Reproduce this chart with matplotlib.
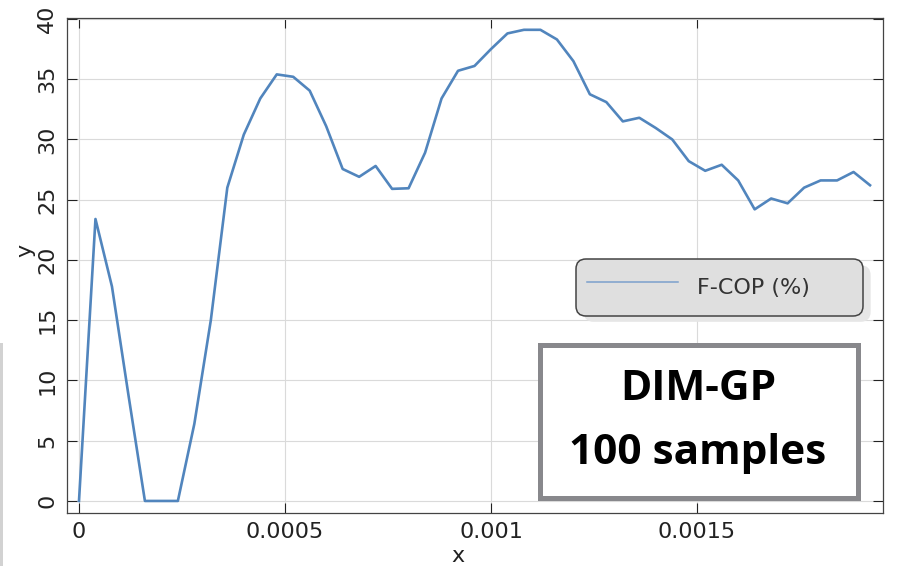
import matplotlib
matplotlib.use("Agg")
import matplotlib.pyplot as plt
from matplotlib.patches import Rectangle, Shadow

# ---- data ----
x_vals = [0.0, 0.00004, 0.00008, 0.00012, 0.00016, 0.0002, 0.00024, 0.00028,
          0.00032, 0.00036, 0.0004, 0.00044, 0.00048, 0.00052, 0.00056, 0.0006,
          0.00064, 0.00068, 0.00072, 0.00076, 0.0008, 0.00084, 0.00088, 0.00092,
          0.00096, 0.001, 0.00104, 0.00108, 0.00112, 0.00116, 0.0012, 0.00124,
          0.00128, 0.00132, 0.00136, 0.0014, 0.00144, 0.00148, 0.00152, 0.00156,
          0.0016, 0.00164, 0.00168, 0.00172, 0.00176, 0.0018, 0.00184, 0.00188,
          0.00192]
fcop = [0.0, 23.4, 17.8, 8.8, 0.0, 0.0, 0.0, 6.4, 15.0, 26.0,
        30.4, 33.4, 35.4, 35.2, 34.05, 31.1, 27.55, 26.9, 27.8, 25.9,
        25.95, 28.9, 33.4, 35.7, 36.1, 37.5, 38.8, 39.1, 39.1, 38.3,
        36.5, 33.75, 33.1, 31.5, 31.8, 30.95, 30.0, 28.2, 27.4, 27.9,
        26.6, 24.2, 25.1, 24.7, 26.0, 26.6, 26.6, 27.3, 26.2]
xticks = [0, 0.0005, 0.001, 0.0015]
xtick_labels = ["0", "0.0005", "0.001", "0.0015"]
yticks = [0, 5, 10, 15, 20, 25, 30, 35, 40]
series_label = "F-COP (%)"
box_lines = ["DIM-GP", "100 samples"]

W, H = 899, 566
plt.rcParams['font.family'] = ['DejaVu Sans']
fig = plt.figure(figsize=(W / 100, H / 100), dpi=100)
fig.patch.set_facecolor('white')

ax = fig.add_axes([67 / W, 1 - 513 / H, (883 - 67) / W, (513 - 18) / H])
ax.plot(x_vals, fcop, color='#5185bd', lw=1.9, label=series_label,
        solid_joinstyle='round', zorder=3)

ax.set_xlim(-0.0000291, 0.0019515)
ax.set_ylim(-1.0, 40.08)
ax.set_xticks(xticks)
ax.set_xticklabels(xtick_labels)
ax.set_yticks(yticks)
ax.grid(True, color='#dadada', lw=0.8)
ax.set_axisbelow(True)
for s in ax.spines.values():
    s.set_color('#444444')
    s.set_linewidth(0.9)
ax.tick_params(direction='in', length=7.2, width=0.8, color='#222222',
               top=True, right=True, labelsize=16, labelcolor='#222222')
ax.tick_params(axis='x', pad=6.5)
ax.tick_params(axis='y', pad=7, labelrotation=90)
for t in ax.get_yticklabels():
    t.set_va('center')

ax.set_xlabel('x', fontsize=16, color='#222222')
ax.set_ylabel('y', fontsize=16, color='#222222')
ax.xaxis.set_label_coords((458 - 67) / 816, -(556 - 513) / 495)
ax.xaxis.label.set_va('center')
ax.yaxis.set_label_coords((25 - 67) / 816, (513 - 250) / 495)
ax.yaxis.label.set_va('center')

# legend
leg = ax.legend(loc='upper left',
                bbox_to_anchor=(576 / W, 1 - 327 / H, (863 - 576) / W, 68 / H),
                bbox_transform=fig.transFigure, mode='expand', borderaxespad=0,
                fontsize=16, handlelength=4.1, handletextpad=0.85,
                handleheight=2.0, borderpad=0.5, fancybox=True, framealpha=1,
                facecolor='#dfdfdf', edgecolor='#444444', labelcolor='#333333')
leg.get_frame().set_linewidth(1.1)
leg.get_frame().set_boxstyle('round', pad=0, rounding_size=0.45)
for ln in leg.get_lines():
    ln.set_linewidth(1.1)
    ln.set_color('#7ba0cc')
leg.set_zorder(6)
shadow = Shadow(leg.legendPatch, 5.5, -4.5, facecolor='#e6e6e6',
                edgecolor='none', alpha=1)
shadow.set_zorder(5.5)
ax.add_artist(shadow)

# annotation box
rect = Rectangle((540 / W, 1 - 498 / H), (858 - 540) / W, (498 - 345) / H,
                 transform=fig.transFigure, facecolor='white',
                 edgecolor='#88888c', lw=3.6, zorder=10)
fig.add_artist(rect)
fig.text(698 / W, 1 - 389 / H, box_lines[0], ha='center', va='center',
         fontsize=30.5, fontweight='bold', family='Open Sans', zorder=11)
fig.text(698 / W, 1 - 453 / H, box_lines[1], ha='center', va='center',
         fontsize=30.5, fontweight='bold', family='Open Sans', zorder=11)

# faint edge artifact at left
fig.add_artist(Rectangle((0, 0), 3 / W, (566 - 343) / H, transform=fig.transFigure,
                         facecolor='#d2d2d2', edgecolor='none'))

fig.canvas.draw()
fig.savefig('out.png', dpi=100)
